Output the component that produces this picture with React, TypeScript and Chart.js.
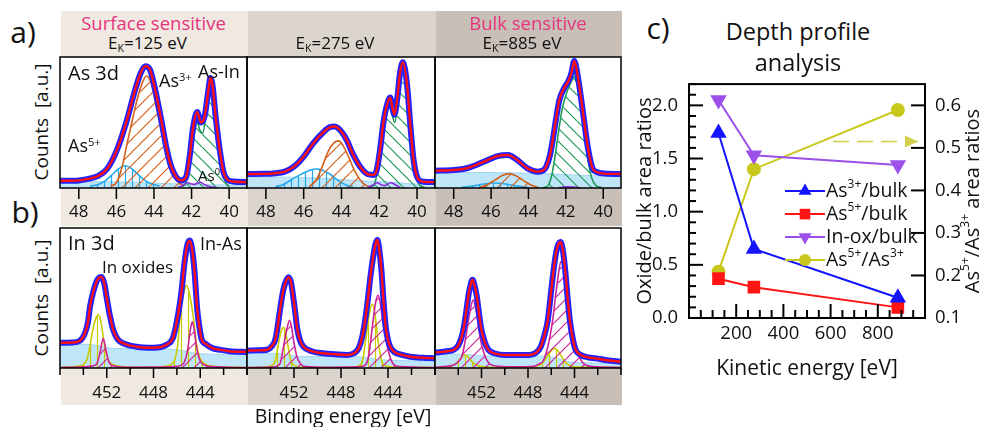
import React, { useEffect, useRef } from 'react';
import { Chart, registerables } from 'chart.js';

Chart.register(...registerables);

const FONT = "'Open Sans', 'DejaVu Sans', sans-serif";

type Pt = [number, number];

// ================= Panel a : As 3d (binding energy [eV], counts [a.u.]) =================
const asBindingRange: Pt = [39.05, 49];
const asTickValues = [48, 46, 44, 42, 40];
const kineticLabels = ['125', '275', '885'];
const sensitivityLabels = ['Surface sensitive', '', 'Bulk sensitive'];

// E_K = 125 eV
const a1Envelope: Pt[] = [
  [49.0, 5.5], [48.0, 5.8], [47.5, 7], [47.0, 9], [46.5, 14.5], [46.0, 28], [45.5, 49], [45.0, 75],
  [44.7, 88], [44.45, 93], [44.2, 90], [43.95, 76], [43.6, 51], [43.35, 31.5], [43.1, 17], [42.8, 8],
  [42.55, 5.8], [42.3, 8], [42.1, 24], [41.93, 45], [41.7, 58], [41.5, 50], [41.3, 55], [41.1, 75],
  [41.0, 84], [40.9, 80], [40.7, 52], [40.5, 29], [40.3, 12], [40.1, 6.5], [39.8, 5], [39.05, 4.5],
];
const a1Background: Pt[] = [
  [49, 5], [46.5, 4.8], [45, 4.3], [44, 3.6], [43, 3.2], [42, 3], [41, 2.5], [40, 2.2], [39.05, 2],
];
const a1As5: Pt[] = [
  [47.4, 1.5], [47.0, 2.5], [46.6, 5.5], [46.2, 10.5], [45.9, 14.5], [45.55, 17], [45.2, 15], [44.9, 11],
  [44.5, 6], [44.1, 3], [43.7, 1.5],
];
const a1As3: Pt[] = [
  [46.3, 1.5], [46.0, 4], [45.7, 16], [45.4, 36], [45.1, 55], [44.85, 70], [44.6, 81], [44.4, 85.5],
  [44.15, 80], [43.85, 60], [43.55, 40], [43.3, 24], [43.0, 11], [42.75, 5], [42.4, 1.5],
];
const a1AsIn: Pt[] = [
  [42.5, 1], [42.3, 4], [42.1, 18], [41.9, 38], [41.7, 50], [41.55, 44], [41.4, 42], [41.2, 62],
  [41.05, 79], [40.95, 82], [40.8, 70], [40.6, 42], [40.4, 17], [40.2, 5], [40.0, 1],
];
const a1As0: Pt[] = [
  [42.7, 0.5], [42.45, 2], [42.2, 4], [42.0, 3], [41.85, 2.8], [41.55, 4.5], [41.3, 2.5], [41.0, 1], [40.7, 0.5],
];

// E_K = 275 eV
const a2Envelope: Pt[] = [
  [49.0, 10.7], [48.0, 10.8], [47.5, 11.3], [47.0, 12.5], [46.5, 16.5], [46.0, 24], [45.5, 34], [45.0, 42],
  [44.6, 46.5], [44.35, 47], [44.0, 43], [43.7, 36], [43.4, 26], [43.0, 16], [42.6, 10.5], [42.3, 10],
  [42.13, 14], [41.96, 29], [41.78, 50], [41.6, 63], [41.42, 69], [41.3, 61], [41.2, 56], [41.05, 68],
  [40.9, 88], [40.75, 96], [40.53, 79], [40.35, 47], [40.18, 21], [40.0, 8.6], [39.73, 5], [39.05, 4.5],
];
const a2Background: Pt[] = [
  [49, 8.5], [47, 8.3], [45, 7.5], [44, 6.5], [43, 5.5], [42, 5], [41, 4], [40, 3], [39.05, 3],
];
const a2As5: Pt[] = [
  [47.5, 1], [47.1, 2.5], [46.8, 5], [46.4, 8.5], [46.0, 11.5], [45.6, 14], [45.3, 14.5], [45.0, 13.5],
  [44.6, 10.5], [44.2, 6], [43.8, 2.5], [43.4, 1],
];
const a2As3: Pt[] = [
  [45.7, 1], [45.3, 7], [45.0, 17], [44.7, 28], [44.4, 34.5], [44.15, 36], [43.9, 32], [43.6, 23],
  [43.3, 13], [43.0, 6], [42.7, 2], [42.4, 0.5],
];
const a2AsIn: Pt[] = [
  [42.5, 0.5], [42.3, 2], [42.1, 12], [41.87, 36], [41.65, 58], [41.5, 66], [41.35, 58], [41.18, 50],
  [41.0, 68], [40.85, 90], [40.75, 94], [40.6, 82], [40.44, 58], [40.3, 36], [40.18, 20], [40.0, 6],
  [39.85, 2], [39.6, 0.5],
];
const a2As0: Pt[] = [
  [42.6, 0.5], [42.3, 2.5], [42.1, 4], [41.9, 2.5], [41.7, 1.8], [41.4, 4], [41.15, 2.5], [40.9, 0.5],
];

// E_K = 885 eV
const a3Envelope: Pt[] = [
  [49.0, 13.2], [48.0, 13.7], [47.5, 14.5], [47.1, 16], [46.4, 20], [45.65, 24.4], [45.1, 25.2], [44.6, 21.4],
  [44.05, 15], [43.5, 12.5], [43.2, 13.5], [43.06, 16], [42.85, 25], [42.7, 36.6], [42.5, 55], [42.35, 67],
  [42.1, 76], [41.85, 82], [41.7, 88], [41.55, 97], [41.37, 86], [41.1, 59.5], [40.83, 31.5], [40.57, 15],
  [40.3, 12], [40.1, 11.2], [39.05, 10.7],
];
const a3Background: Pt[] = [
  [49, 12], [46, 11.8], [44, 11.3], [43, 11], [42, 10.2], [41, 9.6], [40, 9.3], [39.05, 9.3],
];
const a3As5: Pt[] = [
  [47.6, 0.3], [47.0, 1.5], [46.4, 3], [45.8, 3.8], [45.2, 3], [44.6, 1.5], [44.0, 0.3],
];
const a3As3: Pt[] = [
  [46.6, 0.5], [46.2, 2.5], [45.8, 6], [45.4, 9.5], [45.05, 11], [44.7, 9.5], [44.3, 6], [43.9, 2.5], [43.5, 0.5],
];
const a3AsIn: Pt[] = [
  [43.2, 0.3], [42.95, 2], [42.75, 10], [42.6, 22], [42.4, 42], [42.2, 60], [41.95, 73], [41.75, 80],
  [41.55, 85], [41.35, 76], [41.15, 56], [40.95, 35], [40.8, 20], [40.6, 7], [40.4, 2], [40.1, 0.3],
];
const a3As0: Pt[] = [[42.4, 0], [42.0, 1], [41.6, 0.8], [41.2, 0]];

// ================= Panel b : In 3d =================
const inBindingRange: Pt = [440, 456];
const inTickValues = [456, 454, 452, 450, 448, 446, 444, 442, 440];
const inTickLabels = [452, 448, 444];

// E_K = 125 eV
const b1Envelope: Pt[] = [
  [456, 18], [455, 18.2], [454.3, 19.5], [453.86, 25], [453.6, 33], [453.43, 44], [453.1, 56], [452.8, 63],
  [452.45, 65], [452.2, 60], [452.0, 50], [451.72, 37], [451.44, 27], [451.1, 21], [450.87, 19], [449.44, 15.2],
  [448.0, 14.5], [447.45, 14.8], [446.9, 16.5], [446.5, 19], [446.3, 22.4], [445.88, 39], [445.6, 55],
  [445.35, 75], [445.1, 88], [444.9, 91], [444.7, 85], [444.5, 70], [444.26, 42], [444.05, 28], [443.9, 21],
  [443.5, 17], [442.9, 14], [442.3, 13], [441.5, 12], [440, 11.5],
];
const b1Background: Pt[] = [
  [456, 17], [453.5, 16.8], [452.5, 15.5], [451.5, 14], [447, 13.6], [445.5, 12.5], [444.5, 10.5], [443.5, 10], [440, 9.5],
];
const b1Oxide: Pt[] = [
  [456, 0.5], [454.5, 1.2], [454.0, 2.5], [453.7, 6], [453.45, 15], [453.2, 27], [452.95, 35], [452.72, 38],
  [452.5, 33], [452.3, 22], [452.1, 12], [451.87, 5.7], [451.5, 2.5], [451, 1.2], [449, 0.5], [448.5, 0.5],
  [447, 1.2], [446.5, 2.5], [446.2, 5.5], [445.95, 15], [445.73, 36.7], [445.45, 52], [445.17, 59],
  [444.9, 52], [444.6, 36.7], [444.3, 16], [444.02, 7], [443.6, 3], [443, 1.2], [440, 0.4],
];
const b1InAs: Pt[] = [
  [456, 0.3], [454, 0.8], [453.2, 1.5], [452.85, 3], [452.6, 10], [452.3, 21], [452.05, 12], [451.8, 4],
  [451.4, 1.5], [450, 0.5], [447, 0.6], [446, 1.2], [445.45, 3], [445.1, 12], [444.85, 27], [444.68, 33],
  [444.5, 26], [444.3, 14], [444.0, 5], [443.6, 2], [443, 1], [440, 0.3],
];

// E_K = 275 eV
const b2Envelope: Pt[] = [
  [456, 12.4], [455, 12.6], [454.3, 13], [453.9, 15.5], [453.6, 20], [453.4, 29], [453.2, 41], [452.95, 54],
  [452.75, 60.5], [452.47, 64.8], [452.25, 61], [452.1, 53], [451.9, 40], [451.75, 29.5], [451.5, 20],
  [451.2, 15.2], [450.5, 12], [449.5, 10.5], [448.5, 9.8], [447.5, 9.3], [446.9, 10.5], [446.5, 14],
  [446.2, 22], [445.9, 36.7], [445.7, 50], [445.5, 65], [445.25, 80], [445.05, 89], [444.9, 91.4],
  [444.75, 85], [444.56, 70], [444.4, 50], [444.2, 29.5], [444.0, 20], [443.8, 15], [443.5, 11.7],
  [442.8, 9.3], [442.1, 8], [441, 7.3], [440, 7],
];
const b2Background: Pt[] = [
  [456, 10.5], [453.5, 10.3], [452.5, 9.5], [451.5, 8.3], [446.5, 8], [445.5, 7], [444.5, 5.8], [443.5, 5.3], [440, 5],
];
const b2Oxide: Pt[] = [
  [456, 0.3], [454.5, 0.6], [454.0, 1.5], [453.6, 5], [453.32, 17.6], [453.1, 26], [452.9, 29], [452.7, 25],
  [452.5, 15], [452.25, 5], [451.9, 1.5], [451, 0.5], [448, 0.4], [446.8, 0.8], [446.47, 1.5], [446.15, 6],
  [445.9, 20], [445.6, 38], [445.33, 45.7], [445.1, 38], [444.85, 20], [444.6, 7], [444.3, 2], [443.5, 0.6], [440, 0.3],
];
const b2InAs: Pt[] = [
  [456, 0.3], [454, 0.6], [453.4, 1.5], [453.15, 4], [452.9, 15], [452.6, 28], [452.38, 34], [452.2, 29],
  [452.04, 20], [451.75, 8], [451.4, 2.5], [451, 1], [449, 0.5], [447, 0.6], [446.2, 1.2], [445.85, 3],
  [445.62, 10], [445.33, 29.5], [445.05, 47], [444.85, 52], [444.65, 46], [444.48, 35.5], [444.25, 24],
  [444.05, 15], [443.75, 6], [443.5, 2.4], [443, 1], [440, 0.3],
];

// E_K = 885 eV
const b3Envelope: Pt[] = [
  [456, 11], [455, 12], [454.4, 12.9], [454.0, 16], [453.7, 22.4], [453.5, 30], [453.3, 41], [453.1, 53],
  [452.95, 59], [452.78, 63], [452.6, 59], [452.4, 51], [452.2, 38], [452.0, 27], [451.7, 18], [451.4, 12.9],
  [450.9, 10.5], [449.9, 9.3], [447.9, 9.3], [447.3, 11], [446.9, 15.2], [446.6, 23], [446.3, 34], [446.1, 48],
  [445.9, 63], [445.65, 79], [445.45, 87], [445.2, 90], [445.0, 84], [444.8, 70], [444.6, 51], [444.4, 34],
  [444.15, 21], [443.9, 13], [443.5, 9.5], [442.8, 7.5], [442.2, 6.9], [441.2, 5.5], [440, 4.5],
];
const b3Background: Pt[] = [
  [456, 10], [453.5, 9.8], [452.5, 9], [451.5, 8.6], [446.5, 8.4], [445.5, 7], [444.5, 4.5], [443.5, 3.8], [440, 3.3],
];
const b3Oxide: Pt[] = [
  [456, 0.3], [455, 0.8], [454.5, 1.8], [454.1, 4], [453.75, 7.5], [453.43, 9.3], [453.1, 7.5], [452.75, 4],
  [452.35, 1.8], [451.8, 0.8], [450, 0.3], [448, 0.5], [447.2, 1.5], [446.7, 4], [446.3, 9], [445.95, 13],
  [445.73, 14], [445.45, 12.5], [445.1, 8], [444.7, 3.5], [444.3, 1.5], [443.5, 0.6], [440, 0.3],
];
const b3InAs: Pt[] = [
  [456, 0.5], [455, 1.2], [454.3, 2.5], [454.0, 4.5], [453.7, 8], [453.5, 15], [453.3, 24.8], [453.0, 40],
  [452.72, 48.6], [452.5, 43], [452.3, 32], [452.1, 21], [451.87, 12.9], [451.6, 6.5], [451.3, 3], [450.5, 1.2],
  [449, 0.8], [447.5, 1.2], [447.0, 3], [446.7, 5], [446.3, 15], [445.88, 34], [445.5, 60], [445.16, 76],
  [444.85, 67], [444.6, 48.6], [444.4, 36], [444.17, 24.8], [443.9, 15], [443.6, 8], [443.0, 2], [442, 0.8], [440, 0.3],
];

// ================= Panel c : depth profile analysis =================
const kineticEnergy = [125, 275, 885];
const as3PerBulk = [1.74, 0.65, 0.19];
const as5PerBulk = [0.37, 0.29, 0.1];
const inOxPerBulk = [2.05, 1.53, 1.44];
const as5PerAs3 = [0.209, 0.45, 0.589];
const seriesLabels = ['As^{3+}/bulk', 'As^{5+}/bulk', 'In-ox/bulk', 'As^{5+}/As^{3+}'];
const arrowX = [610, 970];
const arrowY = 0.515;
const cXTicks = [0, 50, 100, 150, 200, 250, 300, 350, 400, 450, 500, 550, 600, 650, 700, 750, 800, 850, 900, 950, 1000];
const cLeftTicks = [0, 0.1, 0.2, 0.3, 0.4, 0.5, 0.6, 0.7, 0.8, 0.9, 1.0, 1.1, 1.2, 1.3, 1.4, 1.5, 1.6, 1.7, 1.8, 1.9, 2.0, 2.1, 2.2];
const cRightTicks = [0.1, 0.2, 0.3, 0.4, 0.5, 0.6];

// ================= styling =================
const COL = {
  data: '#2222ff',
  fit: '#ff1010',
  bg: '#bfe5f8',
  bgLine: '#9fd5f2',
  as5: '#22a8ee',
  as3: '#d5601c',
  asIn: '#1f9a55',
  as0: '#8a2be2',
  oxide: '#c9c900',
  inAs: '#cc2299',
  pink: '#e8337d',
};
const bandColors = ['#efe9e2', '#dbd4cd', '#c7bfb8'];

type Comp = { data: Pt[]; color: string; hatch?: 'up' | 'down' | 'vert'; spacing?: number };
type Spec = {
  left: number; right: number; top: number; bottom: number;
  range: Pt; tickValues: number[]; tickLabels: number[]; axisH: number; labelPad: number;
  majorLen: number; minorLen: number;
  envelope: Pt[]; background: Pt[]; comps: Comp[];
};

const boxX = [[60, 247], [247, 435], [435, 621]];
const asBox = { top: 57, bottom: 188 };
const inBox = { top: 228, bottom: 368 };

const asComps = (as0: Pt[], asIn: Pt[], as3: Pt[], as5: Pt[]): Comp[] => [
  { data: as0, color: COL.as0 },
  { data: asIn, color: COL.asIn, hatch: 'down', spacing: 13 },
  { data: as3, color: COL.as3, hatch: 'up', spacing: 13 },
  { data: as5, color: COL.as5, hatch: 'vert', spacing: 7 },
];
const inComps = (inAs: Pt[], ox: Pt[]): Comp[] => [
  { data: inAs, color: COL.inAs, hatch: 'up', spacing: 12 },
  { data: ox, color: COL.oxide, hatch: 'vert', spacing: 7 },
];

const asSpec = (i: number, env: Pt[], bg: Pt[], comps: Comp[]): Spec => ({
  left: boxX[i][0], right: boxX[i][1], top: asBox.top, bottom: asBox.bottom,
  range: asBindingRange, tickValues: asTickValues, tickLabels: asTickValues, axisH: 36, labelPad: 6,
  majorLen: 11, minorLen: 11, envelope: env, background: bg, comps,
});
const inSpec = (i: number, env: Pt[], bg: Pt[], comps: Comp[]): Spec => ({
  left: boxX[i][0], right: boxX[i][1], top: inBox.top, bottom: inBox.bottom,
  range: inBindingRange, tickValues: inTickValues, tickLabels: inTickLabels, axisH: 36, labelPad: 7,
  majorLen: 10, minorLen: 7, envelope: env, background: bg, comps,
});

const spectra: Spec[] = [
  asSpec(0, a1Envelope, a1Background, asComps(a1As0, a1AsIn, a1As3, a1As5)),
  asSpec(1, a2Envelope, a2Background, asComps(a2As0, a2AsIn, a2As3, a2As5)),
  asSpec(2, a3Envelope, a3Background, asComps(a3As0, a3AsIn, a3As3, a3As5)),
  inSpec(0, b1Envelope, b1Background, inComps(b1InAs, b1Oxide)),
  inSpec(1, b2Envelope, b2Background, inComps(b2InAs, b2Oxide)),
  inSpec(2, b3Envelope, b3Background, inComps(b3InAs, b3Oxide)),
];

// ================= helpers =================
function makeHatch(ctx: CanvasRenderingContext2D, color: string, kind: string, s: number) {
  const tile = document.createElement('canvas');
  tile.width = s;
  tile.height = s;
  const g = tile.getContext('2d')!;
  g.strokeStyle = color;
  g.lineWidth = 1.2;
  g.beginPath();
  if (kind === 'vert') {
    g.moveTo(s / 2, 0);
    g.lineTo(s / 2, s);
  } else {
    for (let k = -1; k <= 1; k++) {
      if (kind === 'up') {
        g.moveTo(k * s, s);
        g.lineTo((k + 1) * s, 0);
      } else {
        g.moveTo(k * s, 0);
        g.lineTo((k + 1) * s, s);
      }
    }
  }
  g.stroke();
  return ctx.createPattern(tile, 'repeat');
}

type AxisDeco = { id: string; side: 'bottom' | 'left' | 'right'; dir: 'in' | 'out'; len: (v: number) => number };

function decoPlugin(frameWidth: number, tickWidth: number, axes: AxisDeco[], extra?: (chart: any) => void) {
  return {
    id: 'deco',
    afterDraw(chart: any) {
      const { ctx, chartArea: a } = chart;
      ctx.save();
      ctx.strokeStyle = '#000';
      ctx.lineWidth = tickWidth;
      for (const ax of axes) {
        const s = chart.scales[ax.id];
        for (const t of s.ticks) {
          const L = ax.len(t.value);
          if (!L) continue;
          const p = s.getPixelForValue(t.value);
          ctx.beginPath();
          if (ax.side === 'bottom') {
            ctx.moveTo(p, a.bottom);
            ctx.lineTo(p, ax.dir === 'in' ? a.bottom - L : a.bottom + L);
          } else if (ax.side === 'left') {
            ctx.moveTo(a.left, p);
            ctx.lineTo(ax.dir === 'in' ? a.left + L : a.left - L, p);
          } else {
            ctx.moveTo(a.right, p);
            ctx.lineTo(ax.dir === 'in' ? a.right - L : a.right + L, p);
          }
          ctx.stroke();
        }
      }
      ctx.lineWidth = frameWidth;
      ctx.strokeRect(a.left, a.top, a.right - a.left, a.bottom - a.top);
      if (extra) extra(chart);
      ctx.restore();
    },
  };
}

// rich text with ^{...} superscripts
function richParts(text: string) {
  const parts: { t: string; sup: boolean }[] = [];
  const re = /\^\{([^}]*)\}/g;
  let last = 0;
  let m: RegExpExecArray | null;
  while ((m = re.exec(text))) {
    if (m.index > last) parts.push({ t: text.slice(last, m.index), sup: false });
    parts.push({ t: m[1], sup: true });
    last = m.index + m[0].length;
  }
  if (last < text.length) parts.push({ t: text.slice(last), sup: false });
  return parts;
}
function drawRich(ctx: CanvasRenderingContext2D, text: string, x: number, y: number, size: number, align: 'left' | 'center') {
  const parts = richParts(text);
  const fN = `${size}px ${FONT}`;
  const fS = `${Math.round(size * 0.62)}px ${FONT}`;
  let w = 0;
  for (const p of parts) {
    ctx.font = p.sup ? fS : fN;
    w += ctx.measureText(p.t).width;
  }
  let cx = align === 'center' ? x - w / 2 : x;
  ctx.textBaseline = 'middle';
  ctx.textAlign = 'left';
  for (const p of parts) {
    ctx.font = p.sup ? fS : fN;
    ctx.fillText(p.t, cx, p.sup ? y - size * 0.36 : y);
    cx += ctx.measureText(p.t).width;
  }
}
function drawMarker(ctx: CanvasRenderingContext2D, kind: string, x: number, y: number, r: number, color: string) {
  ctx.fillStyle = color;
  ctx.beginPath();
  const h = r * Math.sin(Math.PI / 3);
  if (kind === 'triangle') {
    ctx.moveTo(x, y - r);
    ctx.lineTo(x + h, y + r / 2);
    ctx.lineTo(x - h, y + r / 2);
  } else if (kind === 'down') {
    ctx.moveTo(x, y + r);
    ctx.lineTo(x + h, y - r / 2);
    ctx.lineTo(x - h, y - r / 2);
  } else if (kind === 'rect') {
    const s = r * Math.SQRT1_2;
    ctx.rect(x - s, y - s, 2 * s, 2 * s);
  } else {
    ctx.arc(x, y, r, 0, Math.PI * 2);
  }
  ctx.closePath();
  ctx.fill();
}

const zeroPad = (s: any) => {
  s.paddingLeft = 0;
  s.paddingRight = 0;
};

// ================= chart builders =================
const toXY = (a: Pt[]) => a.map(([x, y]) => ({ x, y }));

function buildSpectrum(spec: Spec, cv: HTMLCanvasElement): any {
  const ctx = cv.getContext('2d')!;
  const datasets: any[] = [
    { data: toXY(spec.envelope), borderColor: COL.fit, borderWidth: 2.4, fill: false },
    { data: toXY(spec.envelope), borderColor: COL.data, borderWidth: 6, fill: false },
    ...spec.comps.map((c) => ({
      data: toXY(c.data),
      borderColor: c.color,
      borderWidth: 1.6,
      fill: c.hatch ? 'origin' : false,
      backgroundColor: c.hatch ? makeHatch(ctx, c.color, c.hatch, c.spacing || 10) : 'rgba(0,0,0,0)',
    })),
    { data: toXY(spec.background), borderColor: COL.bgLine, borderWidth: 1, fill: 'origin', backgroundColor: COL.bg },
  ];
  return {
    type: 'line',
    data: { datasets },
    options: {
      responsive: false,
      animation: false,
      devicePixelRatio: 1,
      layout: { padding: { top: 1, left: 1, right: 1, bottom: 0 } },
      elements: { point: { radius: 0 }, line: { cubicInterpolationMode: 'monotone' } },
      plugins: { legend: { display: false }, tooltip: { enabled: false }, title: { display: false } },
      scales: {
        x: {
          type: 'linear',
          reverse: true,
          min: spec.range[0],
          max: spec.range[1],
          grid: { display: false },
          border: { display: false },
          afterBuildTicks: (s: any) => {
            s.ticks = spec.tickValues.map((v) => ({ value: v }));
          },
          afterFit: (s: any) => {
            s.height = spec.axisH;
            zeroPad(s);
          },
          ticks: {
            autoSkip: false,
            maxRotation: 0,
            padding: spec.labelPad,
            color: '#111',
            font: { size: 17, family: FONT },
            callback: (v: number) => (spec.tickLabels.includes(v) ? String(v) : ''),
          },
        },
        y: { display: false, min: 0, max: 100 },
      },
    },
    plugins: [
      decoPlugin(1.5, 1.5, [
        { id: 'x', side: 'bottom', dir: 'out', len: (v) => (spec.tickLabels.includes(v) ? spec.majorLen : spec.minorLen) },
      ]),
    ],
  };
}

const cStyles = [
  { color: '#1414ff', marker: 'triangle', r: 7.5, rot: 0, pt: 'triangle', axis: 'y' },
  { color: '#ff1414', marker: 'rect', r: 7.5, rot: 0, pt: 'rect', axis: 'y' },
  { color: '#9b50ea', marker: 'down', r: 7.5, rot: 180, pt: 'triangle', axis: 'y' },
  { color: '#c9c81c', marker: 'circle', r: 6, rot: 0, pt: 'circle', axis: 'y1' },
];

function buildDepth(): any {
  const values = [as3PerBulk, as5PerBulk, inOxPerBulk, as5PerAs3];
  const datasets: any[] = values.map((ys, i) => {
    const st = cStyles[i];
    return {
      label: seriesLabels[i],
      data: kineticEnergy.map((x, j) => ({ x, y: ys[j] })),
      yAxisID: st.axis,
      borderColor: st.color,
      backgroundColor: st.color,
      pointBackgroundColor: st.color,
      pointBorderColor: st.color,
      pointStyle: st.pt,
      pointRotation: st.rot,
      pointRadius: st.r,
      borderWidth: 2,
      tension: 0,
    };
  });
  datasets.push({
    label: 'arrow',
    data: arrowX.map((x) => ({ x, y: arrowY })),
    yAxisID: 'y1',
    borderColor: '#d2d04a',
    borderWidth: 1.6,
    borderDash: [16, 8],
    pointRadius: 0,
    tension: 0,
  });

  const extra = (chart: any) => {
    const { ctx, chartArea: a } = chart;
    // arrow head
    const xs = chart.scales.x;
    const y1 = chart.scales.y1;
    const tx = xs.getPixelForValue(arrowX[1]);
    const ty = y1.getPixelForValue(arrowY);
    ctx.fillStyle = '#d2d04a';
    ctx.beginPath();
    ctx.moveTo(tx, ty);
    ctx.lineTo(tx - 13, ty - 6);
    ctx.lineTo(tx - 13, ty + 6);
    ctx.closePath();
    ctx.fill();
    // legend
    const lx = a.left + 96;
    seriesLabels.forEach((lab, i) => {
      const st = cStyles[i];
      const ly = a.top + 107 + i * 23;
      ctx.strokeStyle = st.color;
      ctx.lineWidth = 2;
      ctx.beginPath();
      ctx.moveTo(lx, ly);
      ctx.lineTo(lx + 40, ly);
      ctx.stroke();
      drawMarker(ctx, st.marker, lx + 20, ly, st.r, st.color);
      ctx.fillStyle = '#111';
      drawRich(ctx, lab, lx + 41, ly, 19.5, 'left');
    });
    // right axis title
    ctx.save();
    ctx.translate(a.right + 48, (a.top + a.bottom) / 2);
    ctx.rotate(-Math.PI / 2);
    ctx.fillStyle = '#111';
    drawRich(ctx, 'As^{5+}/As^{3+} area ratios', 0, 0, 20, 'center');
    ctx.restore();
  };

  const tickFont = { size: 18.5, family: FONT };
  return {
    type: 'line',
    data: { datasets },
    options: {
      responsive: false,
      animation: false,
      devicePixelRatio: 1,
      layout: { padding: { top: 10, left: 0, right: 0, bottom: 0 } },
      plugins: { legend: { display: false }, tooltip: { enabled: false }, title: { display: false } },
      scales: {
        x: {
          type: 'linear',
          min: 0,
          max: 1000,
          grid: { display: false },
          border: { display: false },
          afterBuildTicks: (s: any) => {
            s.ticks = cXTicks.map((v) => ({ value: v }));
          },
          afterFit: (s: any) => {
            s.height = 82;
            zeroPad(s);
          },
          ticks: {
            autoSkip: false,
            maxRotation: 0,
            padding: -3,
            color: '#111',
            font: tickFont,
            callback: (v: number) => (v % 200 === 0 && v > 0 && v < 1000 ? String(v) : ''),
          },
          title: {
            display: true,
            text: 'Kinetic energy [eV]',
            color: '#111',
            font: { size: 21, family: FONT, lineHeight: 1.2 },
            padding: { top: 0, bottom: 18 },
          },
        },
        y: {
          position: 'left',
          min: 0,
          max: 2.2,
          grid: { display: false },
          border: { display: false },
          afterBuildTicks: (s: any) => {
            s.ticks = cLeftTicks.map((v) => ({ value: v }));
          },
          afterFit: (s: any) => {
            s.width = 55;
          },
          ticks: {
            autoSkip: false,
            padding: 3,
            color: '#111',
            font: tickFont,
            callback: (v: number) => {
              const n = Math.round(v * 10);
              return n % 5 === 0 && n <= 20 ? (n / 10).toFixed(1) : '';
            },
          },
          title: {
            display: true,
            text: 'Oxide/bulk area ratios',
            color: '#111',
            font: { size: 20, family: FONT, lineHeight: 1.1 },
            padding: { top: 0, bottom: 0 },
          },
        },
        y1: {
          position: 'right',
          min: 0.1,
          max: 0.65,
          grid: { display: false },
          border: { display: false },
          afterBuildTicks: (s: any) => {
            s.ticks = cRightTicks.map((v) => ({ value: v }));
          },
          afterFit: (s: any) => {
            s.width = 58;
          },
          ticks: {
            autoSkip: false,
            padding: 2,
            color: '#111',
            font: tickFont,
            callback: (v: number) => v.toFixed(1),
          },
        },
      },
    },
    plugins: [
      decoPlugin(
        2,
        2,
        [
          { id: 'x', side: 'bottom', dir: 'in', len: (v) => (v % 200 === 0 ? 14 : 8) },
          { id: 'y', side: 'left', dir: 'in', len: (v) => (Math.round(v * 10) % 5 === 0 ? 14 : 7) },
          { id: 'y1', side: 'right', dir: 'in', len: () => 14 },
        ],
        extra,
      ),
    ],
  };
}

// ================= React =================
function ChartCanvas(props: { left: number; top: number; width: number; height: number; build: (cv: HTMLCanvasElement) => any }) {
  const ref = useRef<HTMLCanvasElement>(null);
  useEffect(() => {
    const cv = ref.current!;
    const chart = new Chart(cv, props.build(cv));
    return () => chart.destroy();
  }, []);
  const { left, top, width, height } = props;
  return <canvas ref={ref} width={width} height={height} style={{ position: 'absolute', left, top, width, height }} />;
}

function Txt(props: { x: number; y: number; size: number; color?: string; rot?: boolean; align?: 'left' | 'center'; children: any }) {
  const { x, y, size, color = '#111', rot, align = 'center', children } = props;
  const tr = align === 'left' ? 'translate(0,-50%)' : 'translate(-50%,-50%)';
  return (
    <div
      style={{
        position: 'absolute',
        left: x,
        top: y,
        fontSize: size,
        lineHeight: 1,
        color,
        whiteSpace: 'nowrap',
        fontFamily: FONT,
        transform: rot ? `${tr} rotate(-90deg)` : tr,
      }}
    >
      {children}
    </div>
  );
}

const supStyle: React.CSSProperties = { fontSize: '0.62em', verticalAlign: '0.55em', lineHeight: 0 };
const subStyle: React.CSSProperties = { fontSize: '0.62em', verticalAlign: '-0.3em', lineHeight: 0 };

export default function App() {
  return (
    <div style={{ position: 'absolute', left: 0, top: 0, width: 983, height: 427, background: '#fff', overflow: 'hidden', fontFamily: FONT }}>
      {/* background bands */}
      {boxX.map(([l, r], i) => (
        <React.Fragment key={'band' + i}>
          <div style={{ position: 'absolute', left: l + 1, top: 11, width: r - l, height: asBox.top - 11, background: bandColors[i] }} />
          <div style={{ position: 'absolute', left: l + 1, top: asBox.bottom, width: r - l, height: 38, background: bandColors[i] }} />
          <div style={{ position: 'absolute', left: l + 1, top: inBox.bottom, width: r - l, height: 37, background: bandColors[i] }} />
        </React.Fragment>
      ))}

      {spectra.map((s, i) => (
        <ChartCanvas
          key={'sp' + i}
          left={s.left - 1}
          top={s.top - 1}
          width={s.right - s.left + 2}
          height={s.bottom - s.top + 1 + s.axisH}
          build={(cv) => buildSpectrum(s, cv)}
        />
      ))}

      <ChartCanvas left={634} top={70} width={349} height={330} build={() => buildDepth()} />

      {/* panel letters */}
      <Txt x={23} y={32} size={30}>a)</Txt>
      <Txt x={25} y={212} size={30}>b)</Txt>
      <Txt x={658} y={28} size={30}>c)</Txt>

      {/* headers */}
      {boxX.map(([l, r], i) => (
        <React.Fragment key={'hd' + i}>
          {sensitivityLabels[i] ? (
            <Txt x={(l + r) / 2} y={23} size={18.5} color={COL.pink}>
              {sensitivityLabels[i]}
            </Txt>
          ) : null}
          <Txt x={(l + r) / 2 - 6} y={42} size={17}>
            E<span style={subStyle}>K</span>={kineticLabels[i]} eV
          </Txt>
        </React.Fragment>
      ))}

      <Txt x={41} y={122} size={19} rot>
        Counts&nbsp;&nbsp;[a.u.]
      </Txt>
      <Txt x={41} y={298} size={19} rot>
        Counts&nbsp;&nbsp;[a.u.]
      </Txt>

      {/* As 3d annotations */}
      <Txt x={68} y={73} size={20} align="left">As 3d</Txt>
      <Txt x={159} y={80} size={18} align="left">
        As<span style={supStyle}>3+</span>
      </Txt>
      <Txt x={198} y={71} size={18} align="left">As-In</Txt>
      <Txt x={68} y={145} size={18} align="left">
        As<span style={supStyle}>5+</span>
      </Txt>
      <Txt x={198} y={175} size={15} align="left">
        As<span style={supStyle}>0</span>
      </Txt>

      {/* In 3d annotations */}
      <Txt x={68} y={243} size={20} align="left">In 3d</Txt>
      <Txt x={102} y={266} size={17} align="left">In oxides</Txt>
      <Txt x={200} y={243} size={18} align="left">In-As</Txt>

      <Txt x={343} y={416} size={19.5}>Binding energy [eV]</Txt>

      <Txt x={798} y={32} size={23.5}>Depth profile</Txt>
      <Txt x={798} y={63} size={23.5}>analysis</Txt>
    </div>
  );
}
